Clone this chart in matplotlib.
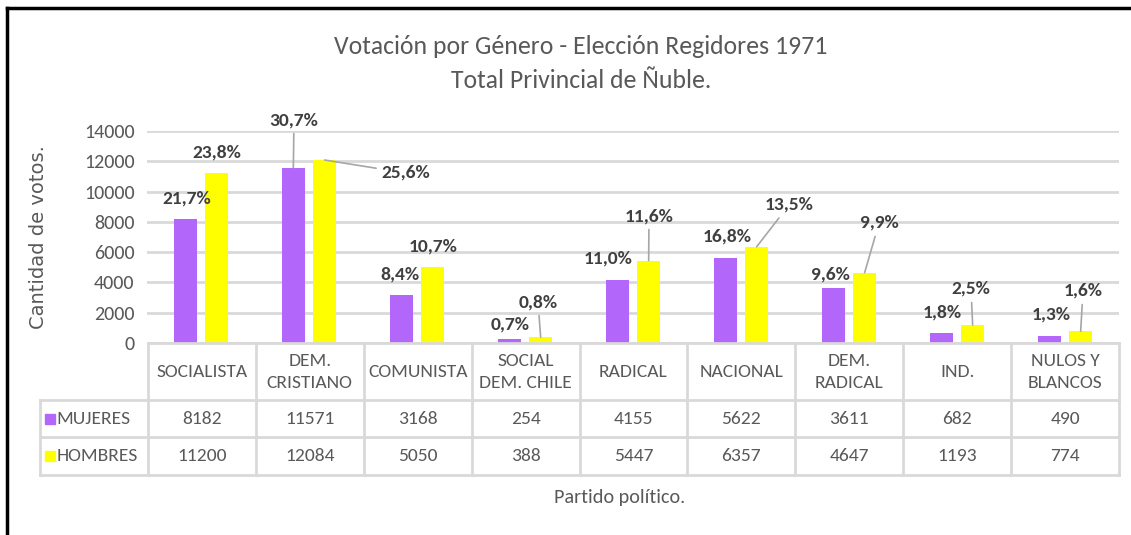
import numpy as np
import matplotlib.pyplot as plt
from matplotlib.lines import Line2D

partidos = ["SOCIALISTA", "DEM.\nCRISTIANO", "COMUNISTA", "SOCIAL\nDEM. CHILE", "RADICAL",
            "NACIONAL", "DEM.\nRADICAL", "IND.", "NULOS Y\nBLANCOS"]
mujeres = [8182, 11571, 3168, 254, 4155, 5622, 3611, 682, 490]
hombres = [11200, 12084, 5050, 388, 5447, 6357, 4647, 1193, 774]
pct_m = ["21,7%", "30,7%", "8,4%", "0,7%", "11,0%", "16,8%", "9,6%", "1,8%", "1,3%"]
pct_h = ["23,8%", "25,6%", "10,7%", "0,8%", "11,6%", "13,5%", "9,9%", "2,5%", "1,6%"]
yticks = [0, 2000, 4000, 6000, 8000, 10000, 12000, 14000]

# label positions (pixels from top-left) and whether a leader line is drawn
pos_m = [(187, 199), (294, 120), (400, 274), (510, 325), (608, 258), (727, 237), (830, 275), (942, 313), (1051, 315)]
lead_m = [0, 1, 0, 0, 0, 0, 0, 0, 0]
pos_h = [(217, 152), (406, 173), (433, 247), (538, 302), (649, 216), (789, 205), (879, 223), (971, 289), (1083, 291)]
lead_h = [0, 1, 0, 1, 1, 1, 1, 1, 1]

narrow = ['Carlito', 'Fira Sans Condensed', 'DejaVu Sans']
grey = '#595959'
lbl = '#404040'
purple = '#b366fa'
yellow = '#ffff00'
W, H = 1131, 535

fig = plt.figure(figsize=(W / 100, H / 100), dpi=100)
ax = fig.add_axes([147 / W, (H - 343) / H, (1119 - 147) / W, (343 - 131) / H])

x = np.arange(len(partidos)) + 0.5
bw = 0.215
ax.bar(x - 0.145, mujeres, bw, color=purple, zorder=3)
ax.bar(x + 0.145, hombres, bw, color=yellow, zorder=3)
ax.set_xlim(0, 9)
ax.set_ylim(0, 14000)
ax.set_yticks(yticks)
ax.set_yticklabels([str(v) for v in yticks], family=narrow, fontsize=14.5, color=grey)
ax.set_xticks([])
ax.tick_params(axis='y', length=0, pad=9)
ax.grid(axis='y', color='#d9d9d9', lw=2, zorder=0)
for s in ax.spines.values():
    s.set_visible(False)
ax.set_ylabel("Cantidad de votos.", fontsize=14, color=grey, family='DejaVu Sans')
ax.yaxis.set_label_coords(-0.102, 0.5)

for vals, txts, pos, lead, off in [(mujeres, pct_m, pos_m, lead_m, -0.145), (hombres, pct_h, pos_h, lead_h, 0.145)]:
    for i, v in enumerate(vals):
        px, py = pos[i]
        ap = dict(arrowstyle='-', color='#a6a6a6', lw=1.2, shrinkA=2, shrinkB=0) if lead[i] else None
        ax.annotate(txts[i], xy=(x[i] + off, v), xytext=(px, H - py), textcoords='figure pixels',
                    ha='center', va='center', fontsize=14, fontweight='bold', color=lbl,
                    family=narrow, arrowprops=ap, annotation_clip=False, zorder=5)

# table under the chart
tb = fig.add_axes([40 / W, (H - 475) / H, (1119 - 40) / W, (475 - 343) / H])
tb.set_xlim(-1, 9)
tb.set_ylim(475, 343)
tb.axis('off')
lc = '#d9d9d9'
for k in range(10):
    tb.plot([k, k], [343, 475], color=lc, lw=2, clip_on=False)
tb.plot([-1, -1], [400, 475], color=lc, lw=2, clip_on=False)
for yy in [400, 437, 475]:
    tb.plot([-1, 9], [yy, yy], color=lc, lw=2, clip_on=False)
tb.plot([0, 9], [343, 343], color=lc, lw=2, clip_on=False)
for i, p in enumerate(partidos):
    tb.text(i + 0.5, 372, p, ha='center', va='center', fontsize=14, color=grey, family=narrow,
            linespacing=1.45)
    tb.text(i + 0.5, 419, str(mujeres[i]), ha='center', va='center', fontsize=14, color=grey, family=narrow)
    tb.text(i + 0.5, 456, str(hombres[i]), ha='center', va='center', fontsize=14, color=grey, family=narrow)
tb.plot([-0.91], [419], marker='s', ms=7, color=purple, clip_on=False)
tb.plot([-0.91], [456], marker='s', ms=7, color=yellow, clip_on=False)
tb.text(-0.85, 419, "MUJERES", ha='left', va='center', fontsize=14, color=grey, family=narrow)
tb.text(-0.85, 456, "HOMBRES", ha='left', va='center', fontsize=14, color=grey, family=narrow)

fig.text(620 / W, 1 - 497 / H, "Partido político.", ha='center', va='center', fontsize=14.5,
         color=grey, family=narrow)
fig.text(581 / W, 1 - 47 / H, "Votación por Género - Elección Regidores 1971", ha='center', va='center',
         fontsize=18.5, color=grey, family=narrow)
fig.text(581 / W, 1 - 81 / H, "Total Privincial de Ñuble.", ha='center', va='center',
         fontsize=18.5, color=grey, family=narrow)

# frame
fig.add_artist(Line2D([7 / W, 7 / W], [0, 1 - 8 / H], color='black', lw=2.5))
fig.add_artist(Line2D([7 / W, 1], [1 - 8 / H, 1 - 8 / H], color='black', lw=2.5))

fig.savefig('out.png', dpi=100)
